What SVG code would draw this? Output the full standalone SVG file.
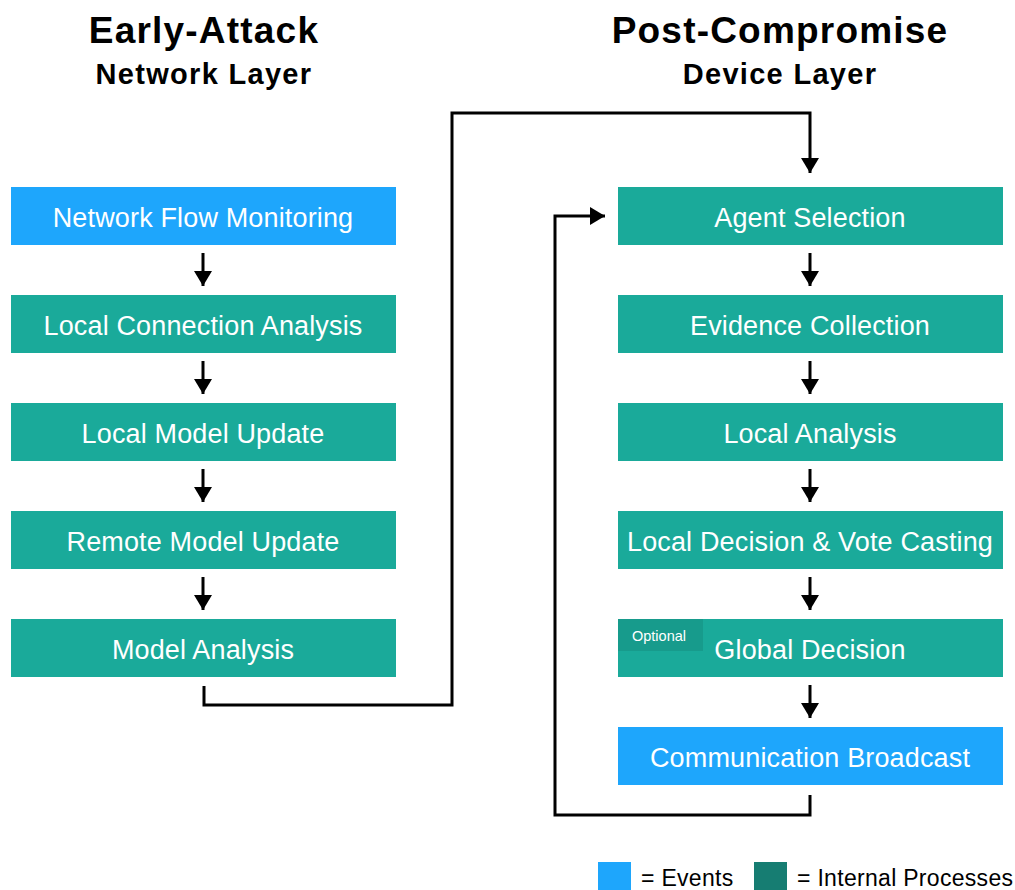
<svg xmlns="http://www.w3.org/2000/svg" width="1015" height="890" viewBox="0 0 1015 890">
<style>
.title{font-family:"Liberation Sans",Arial,sans-serif;font-weight:bold;fill:#000;text-anchor:middle}
.t1{font-size:37px;letter-spacing:1.2px}
.t2{font-size:29px;letter-spacing:1.3px}
.ev{fill:#1EA6FC}
.ip{fill:#1AAA9A}
.lbl{font-family:"Liberation Sans",Arial,sans-serif;font-size:27px;letter-spacing:0.15px;fill:#fff;text-anchor:middle}
.opt{fill:#179B8C}
.optt{font-family:"Liberation Sans",Arial,sans-serif;font-size:14.5px;fill:#fff}
.con{fill:none;stroke:#000;stroke-width:3}
.leg{font-family:"Liberation Sans",Arial,sans-serif;font-size:23px;letter-spacing:0.3px;fill:#000}
</style>
<defs>
<marker id="ah" markerWidth="5" markerHeight="6" refX="5" refY="3" orient="auto" markerUnits="strokeWidth">
<path d="M0,0 L5,3 L0,6 Z" fill="#000"/>
</marker>
</defs>
<rect width="1015" height="890" fill="#fff"/>
<g id="titles">
<text class="title t1" x="204" y="43">Early-Attack</text>
<text class="title t2" x="204" y="84">Network Layer</text>
<text class="title t1" x="780" y="43">Post-Compromise</text>
<text class="title t2" x="780" y="84">Device Layer</text>
</g>
<g id="n1"><rect class="ev" x="11" y="187" width="385" height="58"/><text class="lbl" x="203" y="227">Network Flow Monitoring</text></g>
<g id="n2"><rect class="ip" x="11" y="295" width="385" height="58"/><text class="lbl" x="203" y="335">Local Connection Analysis</text></g>
<g id="n3"><rect class="ip" x="11" y="403" width="385" height="58"/><text class="lbl" x="203" y="443">Local Model Update</text></g>
<g id="n4"><rect class="ip" x="11" y="511" width="385" height="58"/><text class="lbl" x="203" y="551">Remote Model Update</text></g>
<g id="n5"><rect class="ip" x="11" y="619" width="385" height="58"/><text class="lbl" x="203" y="659">Model Analysis</text></g>
<g id="m1"><rect class="ip" x="618" y="187" width="385" height="58"/><text class="lbl" x="810" y="227">Agent Selection</text></g>
<g id="m2"><rect class="ip" x="618" y="295" width="385" height="58"/><text class="lbl" x="810" y="335">Evidence Collection</text></g>
<g id="m3"><rect class="ip" x="618" y="403" width="385" height="58"/><text class="lbl" x="810" y="443">Local Analysis</text></g>
<g id="m4"><rect class="ip" x="618" y="511" width="385" height="58"/><text class="lbl" x="810" y="551">Local Decision &amp; Vote Casting</text></g>
<g id="m5"><rect class="ip" x="618" y="619" width="385" height="58"/><rect class="opt" x="618" y="619" width="85" height="32"/><text class="optt" x="632" y="641">Optional</text><text class="lbl" x="810" y="659">Global Decision</text></g>
<g id="m6"><rect class="ev" x="618" y="727" width="385" height="58"/><text class="lbl" x="810" y="767">Communication Broadcast</text></g>
<g id="connectors">
<path class="con" d="M203,253 V286" marker-end="url(#ah)"/>
<path class="con" d="M203,361 V394" marker-end="url(#ah)"/>
<path class="con" d="M203,469 V502" marker-end="url(#ah)"/>
<path class="con" d="M203,577 V610" marker-end="url(#ah)"/>
<path class="con" d="M810,253 V286" marker-end="url(#ah)"/>
<path class="con" d="M810,361 V394" marker-end="url(#ah)"/>
<path class="con" d="M810,469 V502" marker-end="url(#ah)"/>
<path class="con" d="M810,577 V610" marker-end="url(#ah)"/>
<path class="con" d="M810,685 V718" marker-end="url(#ah)"/>
<path class="con" d="M204,686 V705 H452 V113 H810 V173" marker-end="url(#ah)"/>
<path class="con" d="M810,795 V815 H555 V216 H605" marker-end="url(#ah)"/>
</g>
<g id="legend">
<rect class="ev" x="598" y="862" width="33" height="30"/>
<text class="leg" x="641" y="886">= Events</text>
<rect x="754" y="862" width="33" height="30" fill="#167D72"/>
<text class="leg" x="797" y="886">= Internal Processes</text>
</g>
</svg>
